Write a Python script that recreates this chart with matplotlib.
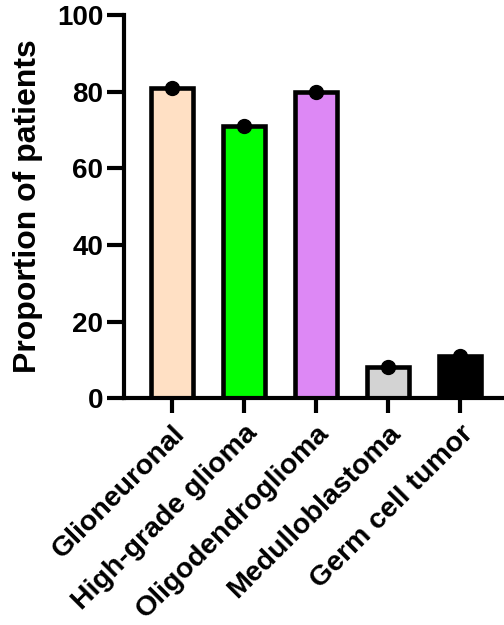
import matplotlib
matplotlib.use("Agg")
import matplotlib.pyplot as plt

# data
categories = ["Glioneuronal", "High-grade glioma", "Oligodendroglioma",
              "Medulloblastoma", "Germ cell tumor"]
proportions = [81, 71, 80, 8, 11]
bar_colors = ["#FFE0C4", "#00FF00", "#DD88F5", "#D3D3D3", "#000000"]

plt.rcParams['font.family'] = ['Liberation Sans', 'DejaVu Sans']
plt.rcParams['font.weight'] = 'bold'

fig = plt.figure(figsize=(5.04, 6.25), dpi=100)
ax = fig.add_axes([0.246, 0.363, 0.754, 0.613])

x = list(range(len(categories)))
ax.bar(x, proportions, width=0.58, color=bar_colors, edgecolor="black",
       linewidth=3.3, zorder=2)
ax.plot(x, proportions, "o", color="black", markersize=10, zorder=3,
        clip_on=False)

ax.set_xlim(-0.667, 4.61)
ax.set_ylim(0, 100)
ax.set_yticks([0, 20, 40, 60, 80, 100])
ax.set_xticks(x)
ax.set_xticklabels(categories, rotation=45, ha="right",
                   rotation_mode="anchor", fontsize=20.5, fontweight="bold")
ax.tick_params(axis="y", labelsize=20, width=3, length=12, pad=3)
ax.tick_params(axis="x", width=3, length=11, pad=5)
for t in ax.get_yticklabels():
    t.set_fontweight("bold")

ax.set_ylabel("Proportion of patients", fontsize=23, fontweight="bold",
              labelpad=10)

for s in ["top", "right"]:
    ax.spines[s].set_visible(False)
for s in ["left", "bottom"]:
    ax.spines[s].set_linewidth(3)

fig.savefig("out.png", dpi=100)
